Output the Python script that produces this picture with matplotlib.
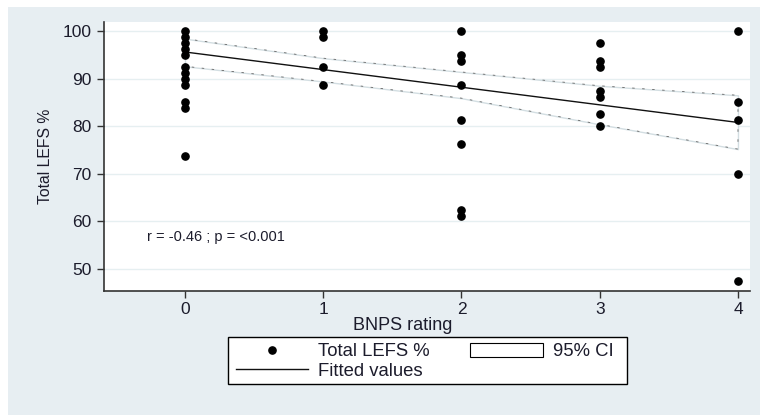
import matplotlib
matplotlib.use("Agg")
import matplotlib.pyplot as plt
from matplotlib.lines import Line2D
from matplotlib.patches import Patch, Rectangle

plt.rcParams['font.family'] = ['Liberation Sans', 'DejaVu Sans']

# ---- data ----
bnps_0 = [100, 98.75, 97.5, 96.25, 95, 92.5, 91.25, 90, 88.75, 85, 83.75, 73.75]
bnps_1 = [100, 98.75, 92.5, 88.75]
bnps_2 = [100, 95, 93.75, 88.75, 81.25, 76.25, 62.5, 61.25]
bnps_3 = [97.5, 93.75, 92.5, 87.5, 86.25, 82.5, 80]
bnps_4 = [100, 85, 81.25, 70, 47.5]
groups = [0, 1, 2, 3, 4]

fit_x = [0, 4]
fit_y = [95.6, 80.8]

ci_x = [0, 1, 2, 3, 4]
ci_upper = [98.4, 94.3, 91.4, 88.5, 86.5]
ci_lower = [92.6, 89.4, 85.9, 80.4, 75.2]

x_ticks = [0, 1, 2, 3, 4]
y_ticks = [50, 60, 70, 80, 90, 100]
annot = "r = -0.46 ; p = <0.001"

# ---- figure ----
W, H = 760, 415
fig = plt.figure(figsize=(W / 100, H / 100), dpi=100, facecolor='white')
bg = Rectangle((8 / W, 0), 1, 1 - 7 / H, transform=fig.transFigure,
               facecolor='#e7eef2', edgecolor='none', zorder=-10)
fig.patches.append(bg)

ax = fig.add_axes([104 / W, 1 - 291 / H, (750 - 104) / W, (291 - 22) / H])
ax.set_facecolor('white')

for yt in y_ticks:
    ax.axhline(yt, color='#e6eff1', lw=1.0, zorder=0)

# CI band
ax.fill_between(ci_x, ci_lower, ci_upper, facecolor='white',
                edgecolor='#d3dee2', lw=1.0, zorder=1)
poly_x = list(ci_x) + list(ci_x[::-1]) + [ci_x[0]]
poly_y = list(ci_upper) + list(ci_lower[::-1]) + [ci_upper[0]]
ax.plot(poly_x, poly_y, color='#666666', lw=0.6, ls=(0, (3, 9)), zorder=2)

# fitted line
ax.plot(fit_x, fit_y, color='#111111', lw=1.0, zorder=3)

# points
all_groups = [bnps_0, bnps_1, bnps_2, bnps_3, bnps_4]
for g, vals in zip(groups, all_groups):
    ax.plot([g] * len(vals), vals, 'o', color='black', ms=5.2, zorder=4)

ax.set_xlim(-0.586, 4.087)
ax.set_ylim(45.4, 101.9)
ax.set_xticks(x_ticks)
ax.set_yticks(y_ticks)
ax.set_xticklabels([str(t) for t in x_ticks])
ax.set_yticklabels([str(t) for t in y_ticks])

for s in ['top', 'right']:
    ax.spines[s].set_visible(False)
for s in ['left', 'bottom']:
    ax.spines[s].set_color('#333333')
    ax.spines[s].set_linewidth(1.2)

ax.tick_params(axis='both', colors='#333333', labelcolor='#1c1c2c',
               labelsize=12.5, length=5, width=1.0)
ax.tick_params(axis='x', pad=3)
ax.tick_params(axis='y', pad=4)

ax.set_xlabel('BNPS rating', fontsize=13, color='#1c1c2c')
ax.xaxis.set_label_coords((403 - 104) / 646, -(325 - 291) / 269, transform=ax.transAxes)
ax.xaxis.label.set_va('center')
ax.set_ylabel('Total LEFS %', fontsize=11.3, color='#1c1c2c')
ax.yaxis.set_label_coords(-(104 - 45) / 646, 0.5, transform=ax.transAxes)
ax.yaxis.label.set_va('center')

ax.text(-0.275, 56.8, annot, fontsize=10.5, color='#1c1c2c', va='center', ha='left')

# legend frame drawn separately
frame = Rectangle((228 / W, 1 - 384 / H), (627 - 228) / W, (384 - 337) / H,
                  transform=fig.transFigure, facecolor='white',
                  edgecolor='black', lw=1.0, zorder=5)
fig.patches.append(frame)

handles = [
    Line2D([], [], marker='o', color='black', ls='none', ms=5.2),
    Line2D([], [], color='#111111', lw=1.0),
    Patch(facecolor='white', edgecolor='black', lw=0.8),
]
labels = ['Total LEFS %', 'Fitted values', '95% CI']
leg = fig.legend(handles, labels, loc='upper left',
                 bbox_to_anchor=(236 / W, 1 - 343 / H), ncol=2,
                 fontsize=13.3, frameon=False, borderpad=0, labelspacing=0.12,
                 handlelength=3.9, handletextpad=0.55, columnspacing=2.2,
                 handleheight=0.8, borderaxespad=0)
leg.set_zorder(6)
for t in leg.get_texts():
    t.set_color('#1c1c2c')

fig.savefig('out.png', dpi=100, facecolor=fig.get_facecolor())
